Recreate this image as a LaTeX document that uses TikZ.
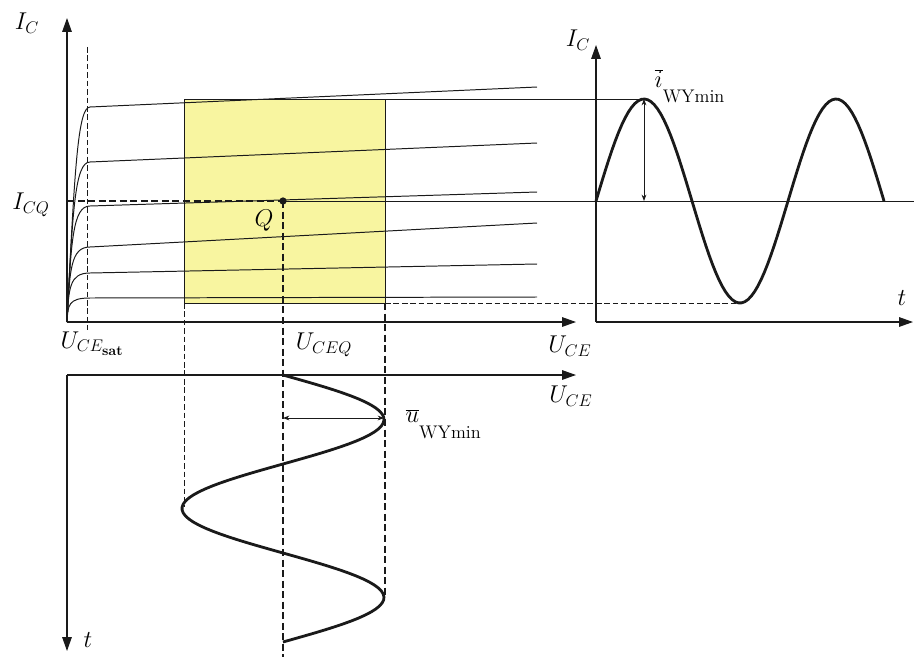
\documentclass[tikz,border=0pt]{standalone}
\usetikzlibrary{arrows.meta,positioning,calc}
\definecolor{Ink}{HTML}{1A1A1A}
\definecolor{Field}{HTML}{F8F5A0}
\newcommand{\lowsub}[1]{\raisebox{-1.1ex}{\fontsize{13}{15}\selectfont #1}}
\tikzset{
  axis/.style={-{Triangle[length=3.5mm,width=2.4mm]},draw=Ink,line width=.8pt},
  curve/.style={draw=Ink,line width=.7pt},
  wave/.style={draw=Ink,line width=2pt,line join=round},
  guide/.style={draw=Ink,dash pattern=on 4pt off 2pt,line width=.6pt},
  qguide/.style={draw=Ink,dash pattern=on 5pt off 2.5pt,line width=1.3pt},
  span/.style={{Stealth[length=1.6mm,width=1.2mm]}-{Stealth[length=1.6mm,width=1.2mm]},draw=Ink,line width=.6pt},
  lbl/.style={font=\LARGE,inner sep=1pt}
}
\begin{document}
\begin{tikzpicture}[x=.25mm,y=-.25mm]
        \useasboundingbox (0,0) rectangle (914,657);
        % output characteristics
        \coordinate (O) at (67,322);
        \coordinate (yTop) at (67,18);
        \coordinate (xEnd) at (576,322);
        \coordinate (Q) at (283,201);
        \coordinate (A) at (184,99);
        \coordinate (B) at (385,303);
        \fill[Field] (A) rectangle (B);
        \draw[curve] (A) rectangle (B);
        \foreach \yk/\ye in {107/87,162/143,206/192,247/223,273/264,298/297}
          \draw[curve] (O) .. controls ({67+.035*(322-\yk)},{\yk+.3*(322-\yk)}) and ({67+.05*(322-\yk)},\yk) .. (90,\yk) -- (537,\ye);
        \draw[axis] (O) -- (yTop);
        \draw[axis] (O) -- (xEnd);
        \draw[guide] (87,47) coordinate (satTop) -- (87,330) coordinate (sat);
        \draw[qguide] (O |- Q) -- (Q);
        \fill[Ink] (Q) circle (2.6pt);
        % time plot of I_C
        \coordinate (O2) at (596,322);
        \coordinate (peak) at (644,99);
        \coordinate (trough) at (739,303);
        \coordinate (zero) at (644,201);
        \draw[curve] (A) -- (peak);
        \draw[curve] (Q) -- (914,201) coordinate (rEnd);
        \draw[guide] (B) -- (trough);
        \draw[axis] (O2) -- (596,45) coordinate (y2Top);
        \draw[axis] (O2) -- (913,322) coordinate (x2End);
        \draw[wave] plot[domain=0:540,samples=90] ({596+\x/540*288},{201-102*sin(\x)});
        \draw[span] (peak) -- (zero);
        % time plot of U_CE
        \coordinate (O3) at (67,375);
        \coordinate (uPeak) at (384,418);
        \coordinate (uZero) at (283,418);
        \draw[axis] (O3) -- (576,375) coordinate (x3End);
        \draw[axis] (O3) -- (67,651) coordinate (y3End);
        \draw[guide] (A |- B) -- (184,507);
        \draw[qguide] (B) -- (385,597);
        \draw[qguide] (Q) -- (283,657);
        \draw[wave] plot[domain=0:540,samples=90] ({283+101*sin(\x)},{375+\x/540*267});
        \draw[span] (uZero) -- (uPeak);
        % labels
        \node[lbl] (IC) at (27,23) {$I_C$};
        \node[lbl] (ICQ) at (31,205) {$I_{CQ}$};
        \node[lbl,below right=0mm and -7mm of sat] (UCEsat) {$U_{CE_{\mathbf{sat}}}$};
        \node[lbl] (UCEQ) at (324,345) {$U_{CEQ}$};
        \node[lbl] (UCE) at (570,346) {$U_{CE}$};
        \node[lbl] (UCE3) at (571,396) {$U_{CE}$};
        \node[lbl] (Qlbl) at (264,221) {$Q$};
        \node[lbl] (IC2) at (578,40) {$I_C$};
        \node[lbl] (t2) at (902,298) {$t$};
        \node[lbl] (t3) at (88,640) {$t$};
        \node[lbl,anchor=south west] (iWY) at (653,105) {$\overline{i}_{\lowsub{WYmin}}$};
        \node[lbl,anchor=north west] (uWY) at (404,408) {$\overline{u}_{\lowsub{WYmin}}$};
      \end{tikzpicture}
\end{document}
